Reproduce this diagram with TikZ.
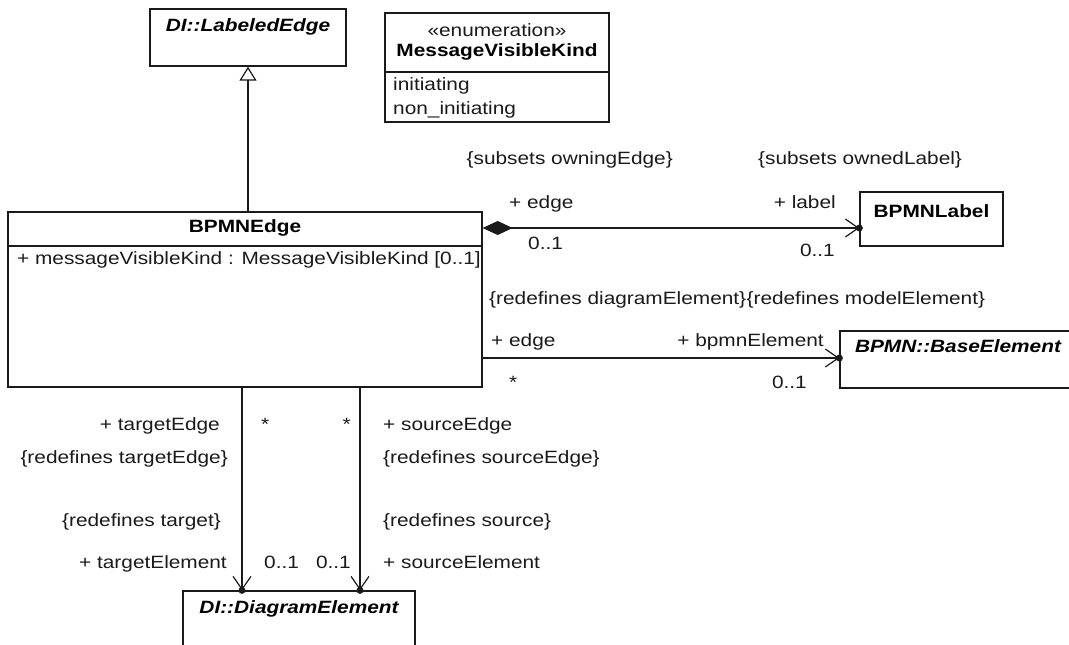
\documentclass[tikz,border=0pt]{standalone}
\usepackage{fontspec}
\setmainfont{Liberation Sans}[FakeStretch=1.17]
\usetikzlibrary{arrows.meta,positioning}
\definecolor{Ink}{HTML}{1A1A1A}
\newcommand\umlsize{\fontsize{17.8}{20}\selectfont}
\tikzset{
  cls/.style={draw=Ink, line width=1.3pt, fill=white, inner sep=0pt},
  clsname/.style={inner sep=0pt, font=\umlsize\bfseries},
  absname/.style={inner sep=0pt, font=\umlsize\bfseries\itshape},
  role/.style={inner sep=0pt, font=\umlsize, text=Ink},
  gen/.style={line width=1.2pt, draw=Ink, -{Triangle[length=14pt,width=17pt,fill=white]}},
  assoc/.style={line width=1.2pt, draw=Ink, -{Straight Barb[length=13pt,width=18pt]}},
  comp/.style={line width=1.2pt, draw=Ink, {Diamond[length=30pt,width=14pt]}-{Straight Barb[length=13pt,width=18pt]}}
}
\begin{document}
\begin{tikzpicture}[x=1pt,y=-1pt,font=\umlsize]
\useasboundingbox (0,0) rectangle (1069,645);
\clip (0,0) rectangle (1069,645);
\fill[white] (0,0) rectangle (1069,645);

\node[cls,minimum width=196pt,minimum height=57pt] (labeled) at (248,37.5) {};
\node[absname] (labeledT) at ([yshift=-19pt]labeled.north) {DI::LabeledEdge};

\node[cls,minimum width=224pt,minimum height=109pt] (enum) at (497,67.5) {};
\node[role] (enumS) at ([yshift=-18pt]enum.north) {«enumeration»};
\node[clsname] (enumT) at ([yshift=-40pt]enum.north) {MessageVisibleKind};
\draw[line width=1.2pt,draw=Ink] (enum.west |- 0,72) -- (enum.east |- 0,72);
\node[role,anchor=base west] (lit1) at (393,90) {initiating};
\node[role,anchor=base west] (lit2) at (393,114) {non\_initiating};

\node[cls,minimum width=474pt,minimum height=175pt] (bpmnedge) at (245,299.5) {};
\node[clsname] (bpmnedgeT) at ([yshift=-17pt]bpmnedge.north) {BPMNEdge};
\draw[line width=1.2pt,draw=Ink] (bpmnedge.west |- 0,246) -- (bpmnedge.east |- 0,246);
\node[role,anchor=base west] (attr) at (17,264) {+ messageVisibleKind : MessageVisibleKind [0..1]};

\node[cls,minimum width=143pt,minimum height=54pt] (bpmnlabel) at (931.5,219) {};
\node[clsname] (bpmnlabelT) at ([yshift=-20pt]bpmnlabel.north) {BPMNLabel};

\node[cls,minimum width=236pt,minimum height=57pt] (base) at (958,359.5) {};
\node[absname] (baseT) at ([yshift=-16pt]base.north) {BPMN::BaseElement};

\node[cls,minimum width=232pt,minimum height=74pt] (diag) at (299,628) {};
\node[absname] (diagT) at ([yshift=-19pt]diag.north) {DI::DiagramElement};

\draw[gen] (labeled.south |- bpmnedge.north) -- (labeled.south);
\draw[comp] (bpmnedge.east |- 0,228) -- (bpmnlabel.west |- 0,228) coordinate (labelEnd);
\draw[assoc] (bpmnedge.east |- 0,358) -- (base.west |- 0,358) coordinate (baseEnd);
\draw[assoc] (bpmnedge.south -| 242,0) -- (diag.north -| 242,0) coordinate (targetEnd);
\draw[assoc] (bpmnedge.south -| 360,0) -- (diag.north -| 360,0) coordinate (sourceEnd);
\foreach \e in {labelEnd,baseEnd,targetEnd,sourceEnd}
  \fill[Ink] (\e) circle (3.5pt);

\node[role,anchor=base east] (owningSub) at (673,164) {\{subsets owningEdge\}};
\node[role,anchor=base west] (ownedSub) at (758,164) {\{subsets ownedLabel\}};
\node[role,anchor=base west] (edgeRole) at (509,208) {+ edge};
\node[role,anchor=base west] (edgeMult) at (528,249) {0..1};
\node[role,anchor=base east] (labelRole) at (836,208) {+ label};
\node[role,anchor=base east] (labelMult) at (835,256) {0..1};

\node[role,anchor=base west] (redefDE) at (489,304) {\{redefines diagramElement\}};
\node[role,right=0pt of redefDE] (redefME) {\{redefines modelElement\}};
\node[role,anchor=base west] (edgeRole2) at (491,346) {+ edge};
\node[role,anchor=base west] (edgeMult2) at (509,388) {*};
\node[role,anchor=base east] (bpmnRole) at (824,346) {+ bpmnElement};
\node[role,anchor=base east] (bpmnMult) at (807,388) {0..1};

\node[role,anchor=base east] (tgtEdge) at (220,430) {+ targetEdge};
\node[role,anchor=base west] (tgtEdgeMult) at (261,430) {*};
\node[role,anchor=base east] (srcEdgeMult) at (351,430) {*};
\node[role,anchor=base west] (srcEdge) at (383,430) {+ sourceEdge};
\node[role,anchor=base east] (tgtEdgeRedef) at (228,463) {\{redefines targetEdge\}};
\node[role,anchor=base west] (srcEdgeRedef) at (383,463) {\{redefines sourceEdge\}};
\node[role,anchor=base east] (tgtRedef) at (221,526) {\{redefines target\}};
\node[role,anchor=base west] (srcRedef) at (383,526) {\{redefines source\}};
\node[role,anchor=base east] (tgtElem) at (227,568) {+ targetElement};
\node[role,anchor=base west] (tgtElemMult) at (264,568) {0..1};
\node[role,anchor=base east] (srcElemMult) at (351,568) {0..1};
\node[role,anchor=base west] (srcElem) at (383,568) {+ sourceElement};
\end{tikzpicture}
\end{document}
